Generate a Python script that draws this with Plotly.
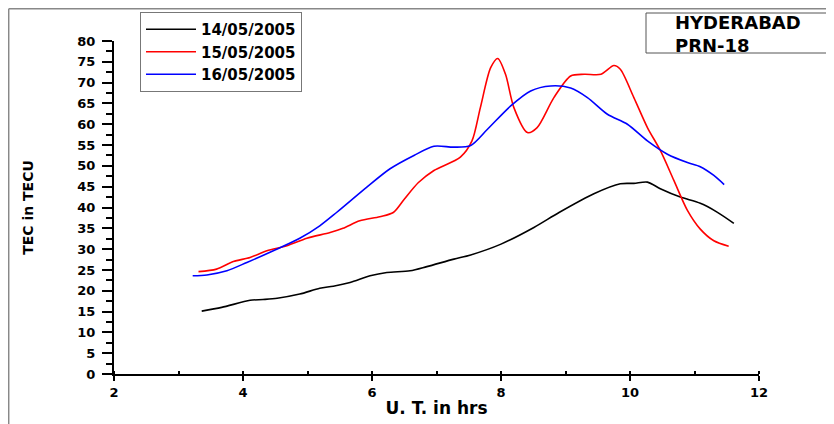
import plotly.graph_objects as go

# 14/05/2005
x_d14 = [3.36, 3.67, 4.11, 4.31, 4.53, 4.88, 5.19, 5.40, 5.66, 5.97, 6.23, 6.59, 6.85,
         7.27, 7.53, 8.00, 8.51, 8.90, 9.44, 9.85, 10.06, 10.27, 10.47, 10.78, 11.09, 11.35, 11.61]
y_d14 = [15.1, 16.0, 17.7, 17.9, 18.2, 19.2, 20.6, 21.1, 22.0, 23.6, 24.4, 24.8, 25.8,
         27.6, 28.6, 31.2, 35.2, 38.8, 43.3, 45.7, 45.8, 46.1, 44.5, 42.5, 41.0, 38.9, 36.2]

# 15/05/2005
x_d15 = [3.31, 3.59, 3.85, 4.11, 4.37, 4.68, 4.99, 5.35, 5.55, 5.81, 6.12, 6.33, 6.50, 6.72,
         6.96, 7.37, 7.55, 7.68, 7.84, 7.95, 8.07, 8.20, 8.41, 8.56, 8.82, 9.08, 9.29, 9.55,
         9.75, 9.85, 10.06, 10.27, 10.47, 10.68, 10.89, 11.09, 11.30, 11.53]
y_d15 = [24.6, 25.2, 27.0, 28.0, 29.6, 30.8, 32.6, 34.0, 35.0, 36.8, 37.8, 38.8, 42.0, 46.0,
         48.9, 52.1, 56.0, 64.0, 73.6, 75.8, 72.0, 64.0, 58.0, 59.2, 66.4, 71.6, 72.0, 72.0,
         74.1, 73.2, 66.4, 59.2, 53.7, 46.5, 39.3, 34.8, 32.0, 30.7]

# 16/05/2005
x_d16 = [3.22, 3.44, 3.75, 4.06, 4.47, 4.88, 5.19, 5.45, 5.92, 6.28, 6.65, 6.96, 7.27, 7.53,
         7.79, 8.15, 8.46, 8.77, 9.08, 9.34, 9.65, 9.96, 10.27, 10.58, 10.89, 11.09, 11.30, 11.46]
y_d16 = [23.6, 23.8, 24.8, 26.8, 29.6, 32.6, 35.6, 38.8, 44.9, 49.3, 52.5, 54.7, 54.5, 54.9,
         58.8, 64.4, 68.0, 69.2, 68.7, 66.4, 62.4, 60.0, 56.0, 52.8, 50.8, 49.8, 47.7, 45.5]

series_names = ["14/05/2005", "15/05/2005", "16/05/2005"]
series_colors = ["#000000", "#ff0000", "#0000ff"]
x_ticks = [2, 4, 6, 8, 10, 12]
y_ticks = list(range(0, 81, 5))
label_lines = ["HYDERABAD", "PRN-18"]

FONT = "DejaVu Sans"

fig = go.Figure()
for xs, ys, name, col in zip([x_d14, x_d15, x_d16], [y_d14, y_d15, y_d16], series_names, series_colors):
    fig.add_trace(go.Scatter(x=xs, y=ys, mode="lines", name=name,
                             line=dict(color=col, width=1.6, shape="spline", smoothing=0.8)))

# page body has an 8px margin, so the figure is offset by 8px in the screenshot
OFF = 8
W, H = 826, 416
L, R, T, B = 106, 75, 33, 50
pw, ph = W - L - R, H - T - B

def px(xp):
    return (xp - OFF - L) / pw

def py(yp):
    return (H - B - (yp - OFF)) / ph

annotations = [dict(xref="paper", yref="paper", x=px(673), y=py(33.5), xanchor="left",
                    yanchor="middle", text="<br>".join(label_lines), showarrow=False, align="left",
                    font=dict(family=FONT, size=18, weight="bold", color="black"))]

fig.update_layout(
    width=W, height=H,
    margin=dict(l=L, r=R, t=T, b=B, autoexpand=False),
    paper_bgcolor="white", plot_bgcolor="white",
    font=dict(family=FONT, color="black"),
    showlegend=True,
    legend=dict(x=px(140), y=py(12), xanchor="left", yanchor="top",
                bgcolor="white", bordercolor="#777777", borderwidth=1,
                font=dict(family=FONT, size=15, weight="bold"),
                itemwidth=50, tracegroupgap=0),
    xaxis=dict(range=[2, 12], tickvals=x_ticks, showline=True, linecolor="black", linewidth=2,
               ticks="outside", ticklen=5, tickwidth=2, tickcolor="black",
               minor=dict(dtick=1, ticks="inside", ticklen=3, tickwidth=2, tickcolor="black"),
               showgrid=False, zeroline=False, automargin=False,
               tickfont=dict(family=FONT, size=13, weight="bold"),
               title=dict(text="U. T. in hrs", font=dict(family=FONT, size=17, weight="bold"), standoff=4)),
    yaxis=dict(range=[0, 80], tickvals=y_ticks, showline=True, linecolor="black", linewidth=2,
               ticks="outside", ticklen=10, tickwidth=2, tickcolor="black",
               minor=dict(dtick=2.5, ticks="outside", ticklen=6, tickwidth=2, tickcolor="black"),
               showgrid=False, zeroline=False, automargin=False, ticklabelstandoff=4,
               tickfont=dict(family=FONT, size=13, weight="bold"),
               title=dict(text="TEC in TECU", font=dict(family=FONT, size=14, weight="bold"), standoff=40)),
    shapes=[
        dict(type="line", xref="paper", yref="paper", x0=px(8.7), x1=px(8.7), y0=py(440), y1=py(8.7),
             line=dict(color="#888888", width=1.5)),
        dict(type="line", xref="paper", yref="paper", x0=px(8.7), x1=px(845), y0=py(8.7), y1=py(8.7),
             line=dict(color="#888888", width=1.5)),
        dict(type="rect", xref="paper", yref="paper", x0=px(646), x1=px(831), y0=py(53), y1=py(13),
             line=dict(color="#555555", width=1), fillcolor="white"),
    ],
    annotations=annotations,
)

fig.write_html("out.html")
